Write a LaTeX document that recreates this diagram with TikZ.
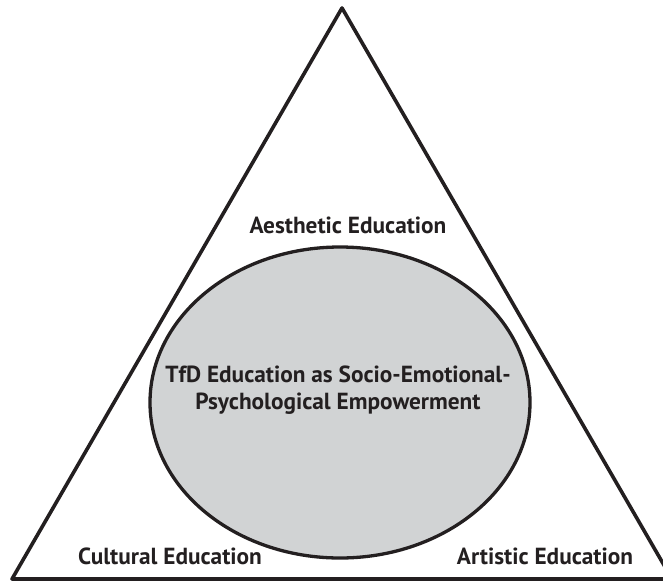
\documentclass[tikz,border=0pt]{standalone}
\usepackage{fontspec}
\setmainfont{PT Sans}
\usepackage{tikz}
\usetikzlibrary{shapes.geometric}
\usepackage{xcolor}

\definecolor{inkdark}{HTML}{231F20}
\definecolor{coregray}{HTML}{D1D3D4}

\begin{document}
\begin{tikzpicture}[x=1pt, y=-1pt, line join=round,
    font=\bfseries\fontsize{23.3}{26.5}\selectfont, text=inkdark]

    % Page frame, the right corner of the triangle runs off it
    \useasboundingbox (0,0) rectangle (663,581);
    \clip (0,0) rectangle (663,581);

    % Define main coordinates
    \coordinate (apex) at (342,8);
    \coordinate (baseL) at (12,579);
    \coordinate (baseR) at (672,579);

    % ==========================================
    % TRIANGLE AND CORE ELLIPSE
    % ==========================================

    \draw[inkdark, line width=3.6pt] (baseL) -- (apex) -- (baseR) -- cycle;

    % Gray ellipse in the middle of the triangle
    \node[ellipse, draw=inkdark, line width=3.3pt, fill=coregray,
          minimum width=380pt, minimum height=311pt, inner sep=0pt]
        (core) at (340,402.5) {};

    % ==========================================
    % LABELS
    % ==========================================

    \node[align=center] (coretext) at (338,390)
        {TfD Education as Socio-Emotional-\\Psychological Empowerment};

    \node (aesthetic) at (348,225) {Aesthetic Education};
    \node (cultural) at (170,556) {Cultural Education};
    \node (artistic) at (545,556) {Artistic Education};

\end{tikzpicture}
\end{document}
